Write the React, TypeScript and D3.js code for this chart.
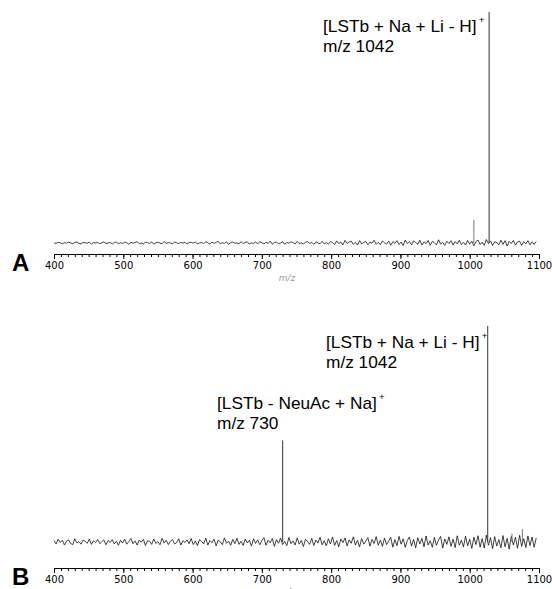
import React from 'react';
import * as d3 from 'd3';

// m/z sampling of the baseline noise: 400, 403, ... 1096
const noiseStart = 400;
const noiseStep = 3;

const noiseA = [
  0.1, -0.2, 0.3, 0.1, -0.4, 0.2, -0.1, 0.4, 0.0, -0.3, 0.2, 0.5, -0.2, -0.4, 0.3, 0.1, -0.1, 0.4, -0.5, 0.2, 0.0, 0.3, -0.3, 0.1, 0.5, -0.2, -0.1, 0.3, -0.4, 0.2, 0.4, -0.3, 0.1,
  -0.2, 0.4, 0.1, -0.5, 0.3, -0.1, 0.2, 0.6, -0.3, 0.0, -0.4, 0.3, 0.2, -0.2, 0.5, -0.5, 0.1, 0.4, -0.1, -0.3, 0.6, -0.2, 0.2, 0.0, -0.4, 0.5, 0.1, -0.3, 0.3, -0.1, 0.4, -0.5, 0.2,
  0.3, -0.1, 0.5, -0.4, 0.0, 0.2, -0.3, 0.6, 0.1, -0.5, 0.4, -0.2, 0.3, 0.7, -0.4, 0.1, -0.2, 0.5, -0.6, 0.2, 0.4, -0.1, 0.0, -0.4, 0.6, -0.3, 0.2, 0.5, -0.5, 0.1, -0.2, 0.4, -0.3,
  0.5, 0.1, -0.4, 0.3, -0.2, 0.8, -0.5, 0.2, 0.4, -0.3, 0.0, 0.6, -0.6, 0.3, -0.1, 0.5, 0.2, -0.4, 0.7, -0.3, 0.1, -0.5, 0.4, 0.6, -0.2, 0.3, -0.6, 0.5, 0.0, -0.3, 0.7, -0.4, 0.2,
  -0.5, 0.6, 0.2, -0.7, 0.9, -0.3, 0.4, -0.8, 1.1, -0.2, 0.5, 0.8, -0.6, 0.3, -0.9, 1.0, -0.4, 0.2, 0.7, -0.8, 0.4, -0.1, 1.2, -0.6, 0.3, -0.7, 0.9, 0.1, -0.5, 0.8, -1.0, 0.6, -0.2,
  1.0, -0.7, 0.4, -1.1, 1.3, -0.2, 0.6, -0.8, 0.9, 0.2, -0.6, 1.2, -0.9, 0.5, -0.3, 1.1, -1.0, 0.7, 0.1, -0.8, 1.4, -0.5, 0.3, -1.0, 0.8, -0.2, 1.0, -0.9, 0.6, -0.4, 1.2, -0.7, 0.3,
  -0.9, 1.1, -0.5, 0.8, -1.2, 0.6, 1.3, -0.7, 0.4, -1.0, 1.5, -0.3, 0.9, -1.1, 0.5, 0.2, -0.8, 1.2, -0.6, 1.0, -1.3, 0.7, -0.2, 1.1, -0.9, 0.4, 0.8, -1.0, 0.6, -0.4, 1.0, -0.8, 0.5, -0.6, 0.7,
];

const noiseB = [
  0.6, -0.9, 1.3, -0.2, 0.8, -1.4, 0.4, 1.0, -0.7, -1.2, 1.5, -0.4, 0.2, -1.0, 0.9, 0.3, -0.6, 1.4, -1.1, 0.5, -0.3, 1.2, -0.8, 0.1, 1.0, -1.3, 0.7, -0.2, 1.1, -0.9, 0.4, -1.5, 0.8,
  -0.5, 1.3, -1.0, 0.2, 1.6, -0.8, 0.5, -1.4, 0.9, -0.1, 1.2, -1.6, 0.6, 0.3, -1.1, 1.4, -0.7, 0.2, -1.3, 1.7, -0.5, 0.8, -1.2, 0.4, 1.1, -0.9, -0.3, 1.5, -1.4, 0.6, -0.2, 1.0, -0.8,
  1.6, -1.2, 0.5, -1.7, 1.1, 0.2, -0.9, 1.8, -1.4, 0.7, -0.3, 1.3, -1.8, 0.9, 0.1, -1.2, 1.9, -0.6, 0.4, -1.5, 1.2, -0.8, 1.7, -1.1, 0.3, -1.6, 1.4, -0.4, 0.8, -1.9, 1.5, -0.7, 1.0,
  -1.3, 0.6, 2.0, -1.5, 0.8, -0.4, 1.6, -2.0, 1.1, -0.6, 1.8, -1.2, 0.3, -1.7, 2.1, -0.8, 0.5, -1.4, 1.9, -1.0, 0.7, -2.1, 1.3, 0.2, -1.1, 1.7, -1.6, 0.9, -0.5, 2.2, -1.3, 0.6, -1.8,
  1.5, -0.9, 2.3, -1.6, 0.7, -2.2, 1.4, -0.3, 1.9, -1.8, 1.0, -0.6, 2.4, -1.4, 0.8, -2.3, 1.6, -1.0, 0.4, 2.0, -1.9, 1.2, -0.7, 2.5, -1.5, 0.9, -2.0, 1.8, -1.2, 0.5, 2.2, -2.4, 1.1,
  -1.7, 2.6, -1.0, 1.5, -2.5, 0.8, 2.3, -1.9, 1.2, -2.7, 2.0, -0.9, 1.7, -2.2, 2.8, -1.4, 0.6, -2.4, 2.1, -1.6, 1.0, 2.6, -2.8, 1.4, -1.1, 2.4, -2.0, 1.3, -2.6, 2.9, -1.5, 0.9, -2.3,
  2.7, -1.8, 1.3, -3.0, 2.2, -1.2, 2.9, -2.4, 1.6, -2.8, 3.2, -1.5, 2.0, -3.1, 2.5, -1.9, 1.1, -2.7, 3.0, -2.2, 1.7, -3.3, 2.6, -1.4, 2.2, -2.9, 3.1, -2.0, 1.5, -2.6, 2.8, -1.7, 2.3, -2.4, 1.9,
];

// peaks: m/z and relative intensity (%)
const peaksA = [
  { mz: 1028, intensity: 100 },
  { mz: 1006, intensity: 10 },
];
const peaksB = [
  { mz: 1026, intensity: 100 },
  { mz: 730, intensity: 47 },
  { mz: 1076, intensity: 6 },
  { mz: 1061, intensity: 4 },
];

const majorTicks = [400, 500, 600, 700, 800, 900, 1000, 1100];
const minorTicks = d3.range(400, 1101, 10);

const labelsA = [
  { text: '[LSTb + Na + Li - H]', sub: 'm/z 1042' },
];
const labelsB = [
  { text: '[LSTb + Na + Li - H]', sub: 'm/z 1042' },
  { text: '[LSTb - NeuAc + Na]', sub: 'm/z 730' },
];

const panels = [
  { name: 'A', noise: noiseA, peaks: peaksA, labels: labelsA, axisY: 254, baseY: 243, topY: 12,
    labelPos: [{ x: 323, y: 32 }] },
  { name: 'B', noise: noiseB, peaks: peaksB, labels: labelsB, axisY: 568, baseY: 542, topY: 326,
    labelPos: [{ x: 326, y: 348 }, { x: 217, y: 409 }] },
];

const W = 552;
const H = 589;

const App = () => {
  const svgRef = React.useRef<SVGSVGElement | null>(null);

  React.useEffect(() => {
    const svg = d3.select(svgRef.current);
    svg.selectAll('*').remove();

    const x = d3.scaleLinear().domain([400, 1100]).range([54, 539]);

    panels.forEach((p) => {
      const y = d3.scaleLinear().domain([0, 100]).range([p.baseY, p.topY]);
      const g = svg.append('g');

      // baseline noise
      const line = d3.line<number>()
        .x((_, i) => x(noiseStart + i * noiseStep))
        .y((d) => y(d));
      g.append('path')
        .datum(p.noise)
        .attr('d', line)
        .attr('fill', 'none')
        .attr('stroke', '#111')
        .attr('stroke-width', 0.8);

      // peaks
      g.selectAll('line.peak')
        .data(p.peaks)
        .enter()
        .append('line')
        .attr('class', 'peak')
        .attr('x1', (d) => x(d.mz))
        .attr('x2', (d) => x(d.mz))
        .attr('y1', y(0))
        .attr('y2', (d) => y(d.intensity))
        .attr('stroke', (d) => (d.intensity > 20 ? '#333' : '#777'))
        .attr('stroke-width', 1);

      // axis: minor ticks then major ticks with labels
      g.append('g')
        .attr('transform', `translate(0,${p.axisY})`)
        .call(d3.axisBottom(x).tickValues(minorTicks).tickSize(3).tickSizeOuter(0).tickFormat(() => ''))
        .call((a) => a.select('.domain').attr('stroke', '#000'));

      const major = g.append('g')
        .attr('transform', `translate(0,${p.axisY})`)
        .call(d3.axisBottom(x).tickValues(majorTicks).tickSize(5).tickSizeOuter(0).tickPadding(3).tickFormat(d3.format('d')));
      major.select('.domain').remove();
      major.selectAll('text')
        .attr('font-family', 'DejaVu Sans, Verdana, sans-serif')
        .attr('font-size', 10)
        .attr('fill', '#000');

      // x axis title (cut off at the bottom in the original)
      g.append('text')
        .attr('x', 287)
        .attr('y', p.axisY + 27)
        .attr('text-anchor', 'middle')
        .attr('font-family', 'DejaVu Sans, sans-serif')
        .attr('font-style', 'italic')
        .attr('font-size', 9)
        .attr('fill', p.name === 'A' ? '#999' : '#333')
        .text('m/z');

      // panel letter
      g.append('text')
        .attr('x', 12)
        .attr('y', p.axisY + 17)
        .attr('font-family', 'Liberation Sans, Arial, sans-serif')
        .attr('font-weight', 'bold')
        .attr('font-size', 24)
        .text(p.name);

      // peak annotations
      p.labels.forEach((lab, i) => {
        const pos = p.labelPos[i];
        const t = g.append('g')
          .attr('transform', `translate(${pos.x},${pos.y}) scale(1.08,1)`)
          .attr('font-family', 'Liberation Sans, Arial, sans-serif')
          .attr('font-size', 16)
          .attr('fill', '#000');
        const first = t.append('text').attr('x', 0).attr('y', 0);
        first.append('tspan').text(lab.text);
        first.append('tspan').attr('dx', 2).attr('dy', -9).attr('font-size', 9).text('+');
        t.append('text').attr('x', 0).attr('y', 20).text(lab.sub);
      });
    });
  }, []);

  return (
    <svg
      ref={svgRef}
      width={W}
      height={H}
      style={{ position: 'absolute', left: 0, top: 0, background: '#fff' }}
    />
  );
};

export default App;
